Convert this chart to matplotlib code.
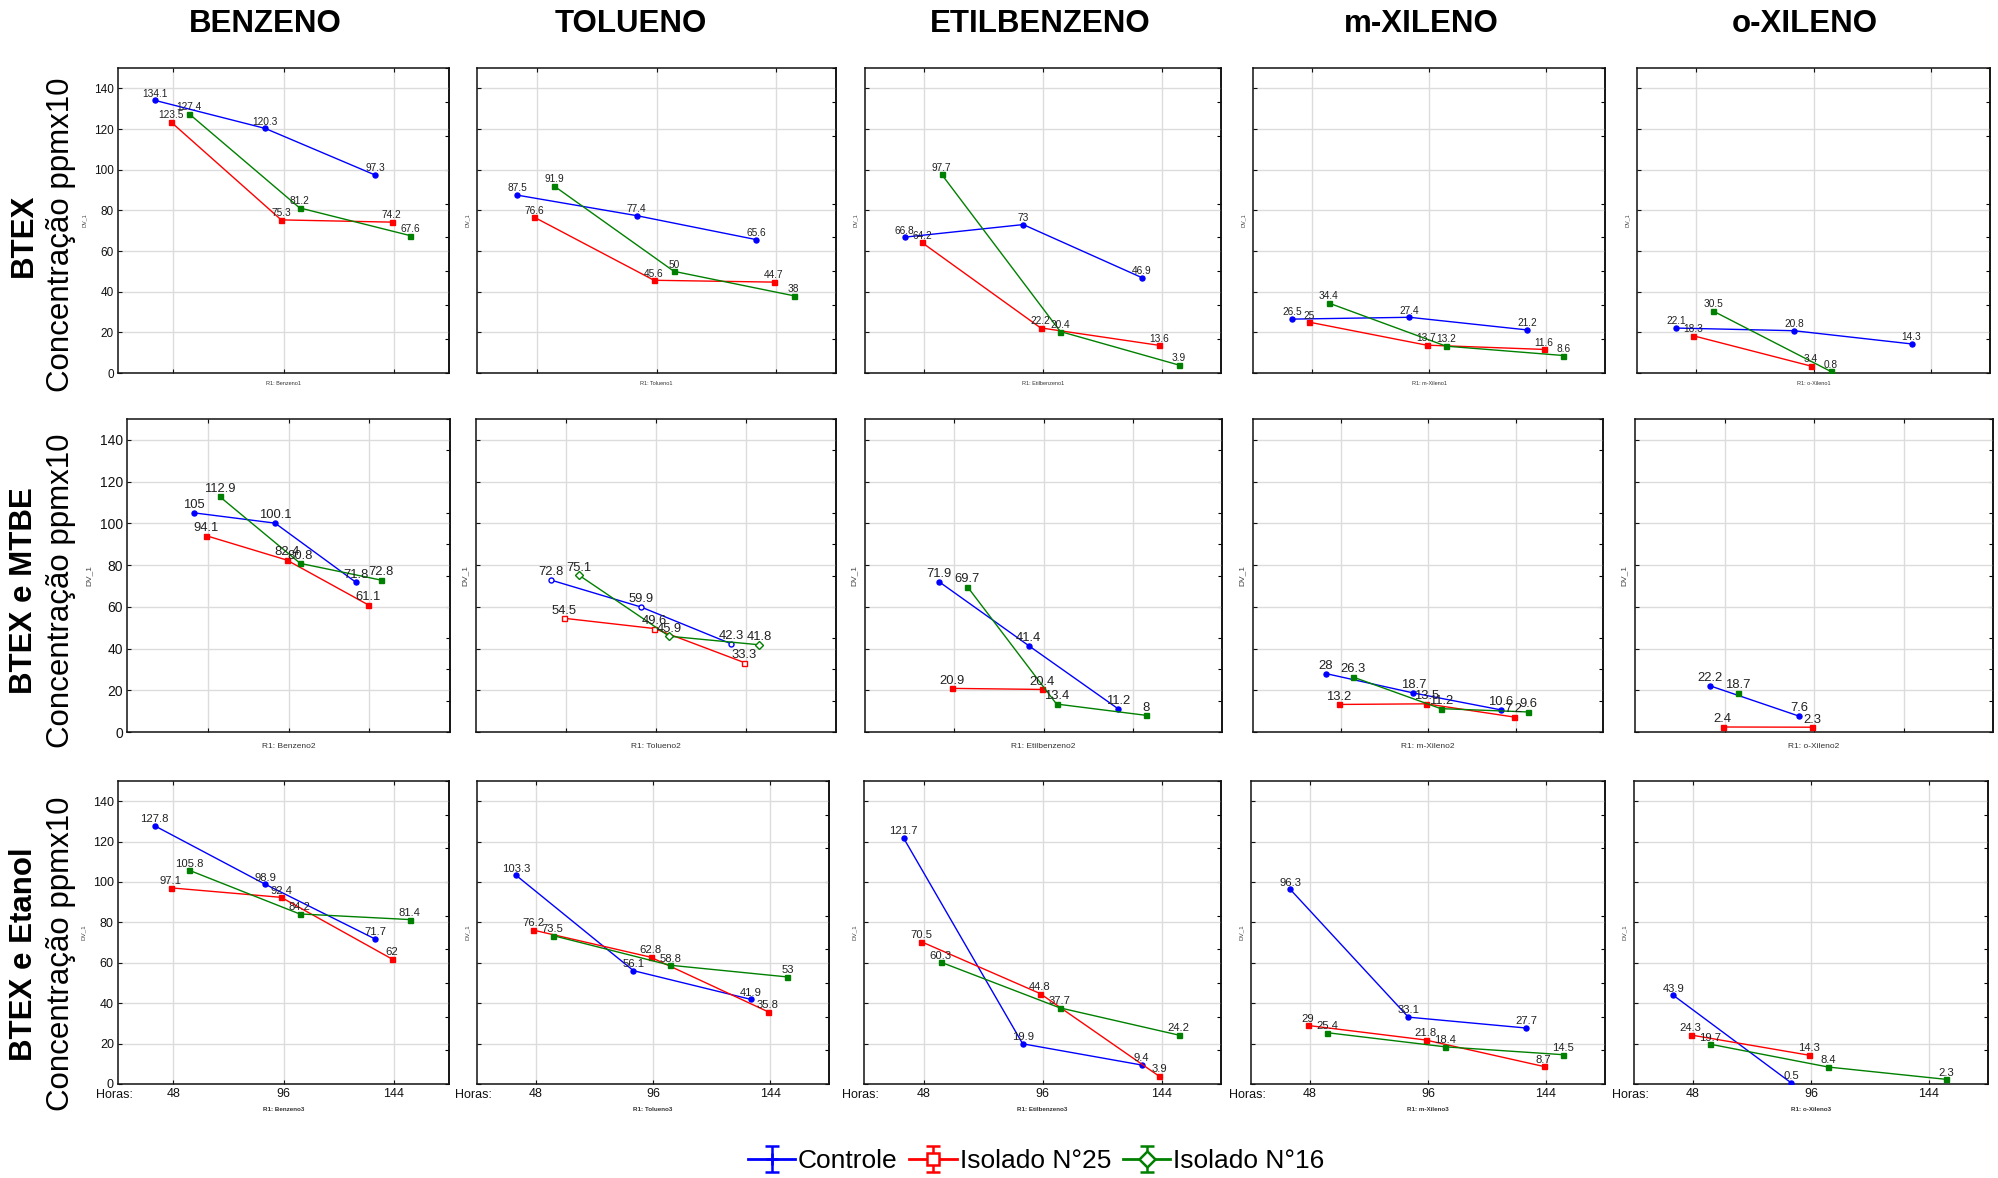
import matplotlib

matplotlib.use("Agg")
import matplotlib.pyplot as plt
import matplotlib.transforms as mtransforms
import numpy as np

plt.rcParams["font.family"] = ["Liberation Sans", "DejaVu Sans"]

nan = np.nan

# Eixo x (horas de ensaio) e nomes
HORAS = [48, 96, 144]
COMPOSTOS = ["BENZENO", "TOLUENO", "ETILBENZENO", "m-XILENO", "o-XILENO"]
NOMES_R1 = ["Benzeno", "Tolueno", "Etilbenzeno", "m-Xileno", "o-Xileno"]
ENSAIOS = ["BTEX", "BTEX e MTBE", "BTEX e Etanol"]
SERIES = ["Controle", "Isolado N°25", "Isolado N°16"]

# Concentrações (ppm x10), uma lista por composto
controle_btex = [[134.1, 120.3, 97.3], [87.5, 77.4, 65.6], [66.8, 73, 46.9],
                 [26.5, 27.4, 21.2], [22.1, 20.8, 14.3]]
controle_mtbe = [[105, 100.1, 71.8], [72.8, 59.9, 42.3], [71.9, 41.4, 11.2],
                 [28, 18.7, 10.6], [22.2, 7.6, nan]]
controle_etanol = [[127.8, 98.9, 71.7], [103.3, 56.1, 41.9], [121.7, 19.9, 9.4],
                   [96.3, 33.1, 27.7], [43.9, 0.5, nan]]

isolado25_btex = [[123.5, 75.3, 74.2], [76.6, 45.6, 44.7], [64.2, 22.2, 13.6],
                  [25, 13.7, 11.6], [18.3, 3.4, nan]]
isolado25_mtbe = [[94.1, 82.4, 61.1], [54.5, 49.6, 33.3], [20.9, 20.4, nan],
                  [13.2, 13.5, 7.2], [2.4, 2.3, nan]]
isolado25_etanol = [[97.1, 92.4, 62], [76.2, 62.8, 35.8], [70.5, 44.8, 3.9],
                    [29, 21.8, 8.7], [24.3, 14.3, nan]]

isolado16_btex = [[127.4, 81.2, 67.6], [91.9, 50, 38], [97.7, 20.4, 3.9],
                  [34.4, 13.2, 8.6], [30.5, 0.8, nan]]
isolado16_mtbe = [[112.9, 80.8, 72.8], [75.1, 45.9, 41.8], [69.7, 13.4, 8],
                  [26.3, 11.2, 9.6], [18.7, nan, nan]]
isolado16_etanol = [[105.8, 84.2, 81.4], [73.5, 58.8, 53], [60.3, 37.7, 24.2],
                    [25.4, 18.4, 14.5], [19.7, 8.4, 2.3]]

DADOS = [
    [controle_btex, isolado25_btex, isolado16_btex],
    [controle_mtbe, isolado25_mtbe, isolado16_mtbe],
    [controle_etanol, isolado25_etanol, isolado16_etanol],
]

# Estilo de cada série: cor, marcador e deslocamento em x (h)
CORES = ["#0000ff", "#ff0000", "#008000"]
MARCADORES = ["o", "s", "s"]
MARCADORES_VAZADOS = ["o", "s", "D"]
DESLOC = [-8, -1, 7]

# Posição dos painéis em pixels (figura 1998 x 1178)
W, H = 1998, 1178
COLUNAS = [
    [(118, 449), (477, 836), (865, 1221), (1253, 1605), (1637, 1990)],
    [(127, 450), (476, 836), (865, 1222), (1253, 1603), (1635, 1993)],
    [(118, 449), (477, 829), (864, 1221), (1251, 1605), (1634, 1988)],
]
LINHAS = [(68, 373), (419, 732), (781, 1084)]
XLIM = [(24, 168), (0, 192), (24, 168)]
RIGHT_TICKS = [np.linspace(0, 150, 10), np.linspace(0, 150, 11), np.linspace(0, 150, 10)]

FS_ROTULO = [7.3, 9.4, 8.1]
FS_TICK = [8.5, 10, 9]
FS_PEQ = [4, 6, 4.5]
LABELPAD_X = [6, 8, 5]

TITULO_X = [265, 631, 1040, 1421, 1805]
ENSAIO_Y = [235, 591, 954]


def desenha_painel(ax, linha, col):
    """Desenha as três séries de um composto em um ensaio."""
    for k in range(3):
        y = np.array(DADOS[linha][k][col], dtype=float)
        x = np.array(HORAS) + DESLOC[k]
        vazado = linha == 1 and col == 1
        marc = MARCADORES_VAZADOS[k] if vazado else MARCADORES[k]
        ax.plot(x, y, color=CORES[k], lw=1.0, marker=marc, ms=3.6,
                mfc="white" if vazado else CORES[k], mec=CORES[k], mew=1.0,
                zorder=3)
        for xi, yi in zip(x, y):
            if np.isnan(yi):
                continue
            ax.annotate(f"{yi:g}", (xi, yi), xytext=(0, 1.2),
                        textcoords="offset points", ha="center", va="bottom",
                        fontsize=FS_ROTULO[linha], color="#222222", zorder=4)

    ax.set_xlim(*XLIM[linha])
    ax.set_ylim(0, 150)
    ax.set_xticks(HORAS)
    ax.set_yticks(np.arange(0, 141, 20))
    ax.grid(True, color="#dcdcdc", lw=1.0, zorder=0)
    ax.set_axisbelow(True)
    for s in ax.spines.values():
        s.set_linewidth(1.1)
        s.set_color("#111111")
    ax.tick_params(direction="in", length=3, width=0.8, top=True,
                   labelsize=FS_TICK[linha], pad=3, colors="#111111")
    ax.tick_params(axis="y", labelleft=(col == 0))
    ax.tick_params(axis="x", labelbottom=(linha == 2))

    # ticks do lado direito
    sec = ax.secondary_yaxis("right")
    sec.set_yticks(RIGHT_TICKS[linha])
    sec.set_yticklabels([])
    sec.tick_params(direction="in", length=3, width=0.8)
    sec.spines["right"].set_linewidth(1.1)

    ax.set_ylabel("DV_1", fontsize=FS_PEQ[linha], color="#444444", labelpad=5)
    ax.set_xlabel(f"R1: {NOMES_R1[col]}{linha + 1}", fontsize=FS_PEQ[linha],
                  color="#333333", labelpad=LABELPAD_X[linha],
                  fontweight="bold" if linha == 2 else "normal")

    if linha == 2:
        trans = mtransforms.offset_copy(ax.transAxes, fig=ax.figure,
                                        x=15, y=-5, units="dots")
        ax.text(0, 0, "Horas:", transform=trans, ha="right", va="top",
                fontsize=FS_TICK[linha], color="#111111")


fig = plt.figure(figsize=(W / 100, H / 100), dpi=100)

for i in range(3):
    topo, base = LINHAS[i]
    for j in range(5):
        esq, dir_ = COLUNAS[i][j]
        ax = fig.add_axes([esq / W, 1 - base / H, (dir_ - esq) / W, (base - topo) / H])
        desenha_painel(ax, i, j)

# Títulos das colunas
for j, nome in enumerate(COMPOSTOS):
    fig.text(TITULO_X[j] / W, 1 - 24 / H, nome, ha="center", va="center",
             fontsize=22.5, fontweight="bold")

# Títulos das linhas
for i, nome in enumerate(ENSAIOS):
    fig.text(24 / W, 1 - ENSAIO_Y[i] / H, nome, rotation=90, ha="center",
             va="center", fontsize=22.5, fontweight="bold")
    fig.text(61 / W, 1 - ENSAIO_Y[i] / H, "Concentração ppmx10", rotation=90,
             ha="center", va="center", fontsize=22.5)

# Legenda com ícones de barra de erro
ax_leg = fig.add_axes([0, 0, 0.001, 0.001])
ax_leg.set_axis_off()
marc_leg = ["+", "s", "D"]
handles = []
for k in range(3):
    h = ax_leg.errorbar([nan], [nan], yerr=[nan], color=CORES[k], lw=2,
                        marker=marc_leg[k], ms=8, mfc="white", mew=1.8,
                        capsize=5, elinewidth=1.8, capthick=1.8)
    handles.append(h)
fig.legend(handles, SERIES, loc="center", bbox_to_anchor=(1036 / W, 1 - 1161 / H),
           ncol=3, frameon=False, fontsize=19, handlelength=1.8,
           handletextpad=0.1, columnspacing=0.45, borderpad=0)

fig.savefig("out.png", dpi=100)
